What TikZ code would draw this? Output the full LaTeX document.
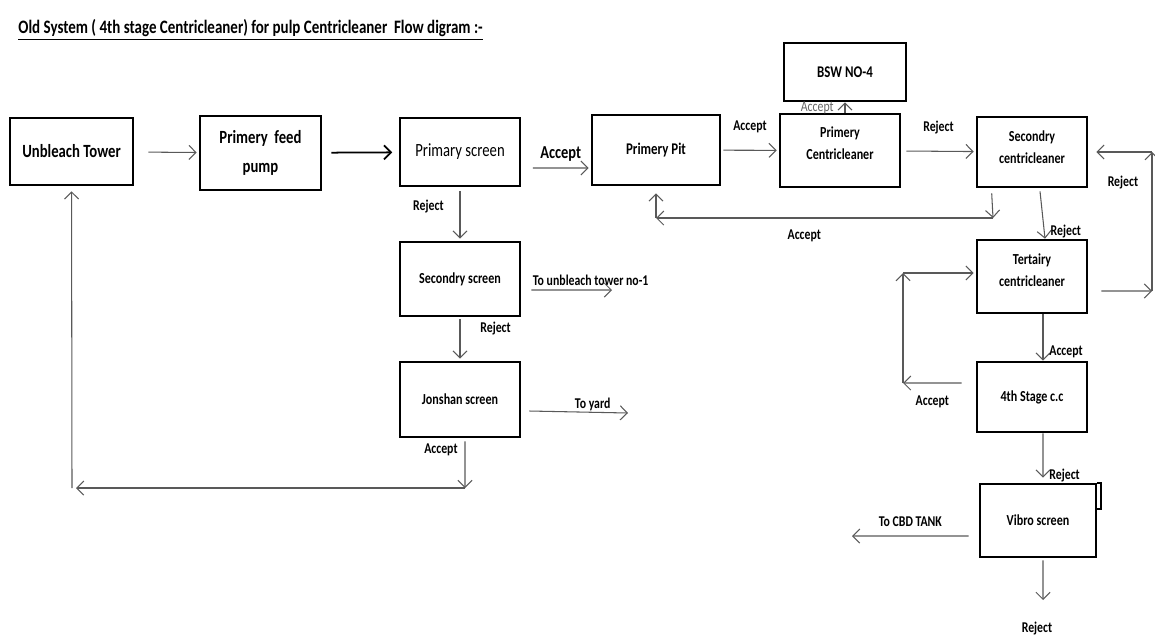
\documentclass[tikz,border=0pt]{standalone}
\usepackage{fontspec}
\setmainfont{Carlito}[FakeStretch=0.79]
\usetikzlibrary{arrows.meta}
\tikzset{
	chart/.style={x=0.02cm,y=-0.02cm,>={Straight Barb[length=4pt,width=8pt]},
		line width=0.6pt,draw=black!65},
	unit/.style={rectangle,draw=black,line width=1.5pt,align=center,inner sep=1pt,
		font=\fontsize{8.7}{12.5}\selectfont\bfseries},
	big/.style={font=\fontsize{10.6}{16.4}\selectfont\bfseries},
	mid/.style={font=\fontsize{9.3}{12}\selectfont\bfseries},
	light box/.style={line width=0.9pt,font=\fontsize{10.6}{13}\selectfont},
	heavy/.style={line width=1pt,draw=black},
	lbl/.style={font=\fontsize{8.5}{10}\selectfont\bfseries,text=black},
	lbl big/.style={font=\fontsize{10.4}{12}\selectfont\bfseries},
	faint/.style={font=\fontsize{8.5}{10}\selectfont,text=black!60},
	title/.style={font=\fontsize{10.8}{13}\selectfont\bfseries,text=black}
}

\begin{document}
\begin{tikzpicture}[chart]
	\useasboundingbox (0,0) rectangle (1155,637);
	
	\node[title,anchor=west] (hd) at (12,30) {\underline{Old System ( 4th stage Centricleaner) for pulp Centricleaner\ \ Flow digram :-}};
	
	\node[unit,big,minimum width=2.46cm,minimum height=1.34cm] (ut) at (71.5,151.5) {Unbleach Tower};
	\node[unit,big,minimum width=2.42cm,minimum height=1.48cm] (pf) at (260.5,153) {Primery\ \ feed\\pump};
	\node[unit,light box,minimum width=2.40cm,minimum height=1.36cm] (ps) at (460,152) {Primary screen};
	\node[unit,mid,minimum width=2.56cm,minimum height=1.40cm] (pp) at (656,150) {Primery Pit};
	\node[unit,mid,minimum width=2.44cm,minimum height=1.16cm] (bsw) at (845,72) {BSW NO-4};
	\node[unit,minimum width=2.40cm,minimum height=1.46cm] (pcc) at (840,150.5) {Primery\\Centricleaner\\[-4.5pt]};
	\node[unit,minimum width=2.20cm,minimum height=1.40cm] (scc) at (1032,152) {Secondry\\centricleaner\\[-6.9pt]};
	\node[unit,minimum width=2.20cm,minimum height=1.46cm] (tcc) at (1032,276.5) {Tertairy\\centricleaner\\[-5.7pt]};
	\node[unit,minimum width=2.20cm,minimum height=1.40cm] (fcc) at (1032,397) {4th Stage c.c};
	\node[unit,minimum width=2.32cm,minimum height=1.46cm] (vib) at (1038,520.5) {Vibro screen};
	\node[unit,minimum width=2.40cm,minimum height=1.48cm] (ss) at (460,279) {Secondry screen};
	\node[unit,minimum width=2.40cm,minimum height=1.50cm] (js) at (460,399.5) {Jonshan screen};
	\draw[line width=1pt,draw=black] (vib.north east) -- ++(4,0) -- ++(0,26) -- ++(-4,0);
	
	\path[->] (ut) edge[shorten <=0.28cm,shorten >=0.04cm] (pf);
	\path[->,heavy] (pf) edge[shorten <=0.18cm,shorten >=0.14cm] (ps);
	\path[->] ([xshift=0.24cm,yshift=-0.32cm]ps.east) edge node[lbl,lbl big,above] {Accept} ([xshift=-0.04cm,yshift=-0.36cm]pp.west);
	\path[->] (pp) edge[shorten <=0.04cm,shorten >=0.04cm] node[lbl,above=0.22cm] {Accept} (pcc);
	\path[->] (pcc.north -| bsw) edge node[faint,left=0.1cm] {Accept} (bsw);
	\path[->] (pcc) edge[shorten <=0.1cm,shorten >=0.04cm] node[lbl,above=0.22cm] {Reject} (scc);
	
	\coordinate (sa) at (993,218);
	\coordinate (pa) at (pp.south |- sa);
	\path[->] ([xshift=0.32cm,yshift=-0.1cm]scc.south west) edge (sa);
	\path[->] (sa) edge node[lbl,below=0.1cm,pos=0.56] {Accept} (pa);
	\path[->] (pa) edge[shorten >=0.14cm] (pp);
	\path[->] ([xshift=0.16cm,yshift=-0.06cm]scc.south) edge node[lbl,right,pos=0.85] {Reject} ([xshift=0.26cm]tcc.north);
	
	\coordinate (tr) at (1152,291);
	\coordinate (sr) at (1152,152);
	\path[->] ([xshift=0.26cm,yshift=-0.29cm]tcc.east) edge (tr);
	\path[->] (tr) edge node[lbl,left=0.15cm,pos=0.78] {Reject} (sr);
	\path[->] (sr) edge[shorten >=0.16cm] (scc);
	\path[->] ([xshift=0.22cm]tcc.south) edge node[lbl,right,pos=0.8] {Accept} ([xshift=0.22cm]fcc.north);
	
	\coordinate (fl) at (903,383);
	\coordinate (tl) at (903,273);
	\path[->] ([xshift=-0.28cm,yshift=0.28cm]fcc.west) edge node[lbl,below=0.12cm] {Accept} (fl);
	\path[->] (fl) edge (tl);
	\path[->] (tl) edge[shorten >=0.04cm] (tl -| tcc.west);
	\path[->] ([xshift=0.22cm]fcc.south) edge[shorten >=0.1cm] node[lbl,right,pos=0.85] {Reject} ([xshift=0.1cm]vib.north);
	
	\coordinate (cbd) at (852,536);
	\coordinate (vr) at (1043,600);
	\path[->] ([xshift=-0.2cm,yshift=-0.31cm]vib.west) edge node[lbl,above=0.06cm] {To CBD TANK} (cbd);
	\path[->] ([xshift=0.1cm,yshift=-0.04cm]vib.south) edge node[lbl,pos=1,below=0.32cm,xshift=-0.12cm] {Reject} (vr);
	
	\path[->] (ps) edge[shorten <=0.08cm,shorten >=0.04cm] node[lbl,left=0.2cm,pos=0.37] {Reject} (ss);
	\coordinate (tu) at (612,290);
	\path[->] ([xshift=0.2cm,yshift=-0.22cm]ss.east) edge node[lbl,above=-0.04cm,xshift=0.38cm] {To unbleach tower no-1} (tu);
	\path[->] (ss) edge[shorten <=0.04cm,shorten >=0.04cm] node[lbl,right=0.28cm,pos=0.26] {Reject} (js);
	\coordinate (yd) at (628,413);
	\path[->] ([xshift=0.16cm,yshift=-0.23cm]js.east) edge node[lbl,above=-0.1cm,xshift=0.28cm] {To yard} (yd);
	
	\coordinate (ja) at (465,488);
	\coordinate (ua) at (72,488);
	\path[->] ([xshift=0.1cm,yshift=-0.06cm]js.south) edge node[lbl,left=0.02cm,pos=0.19] {Accept} (ja);
	\path[->] (ja) edge[shorten >=0.08cm] (ua);
	\path[->] (ua) edge[shorten >=0.1cm] (ut);
	
\end{tikzpicture}
\end{document}
